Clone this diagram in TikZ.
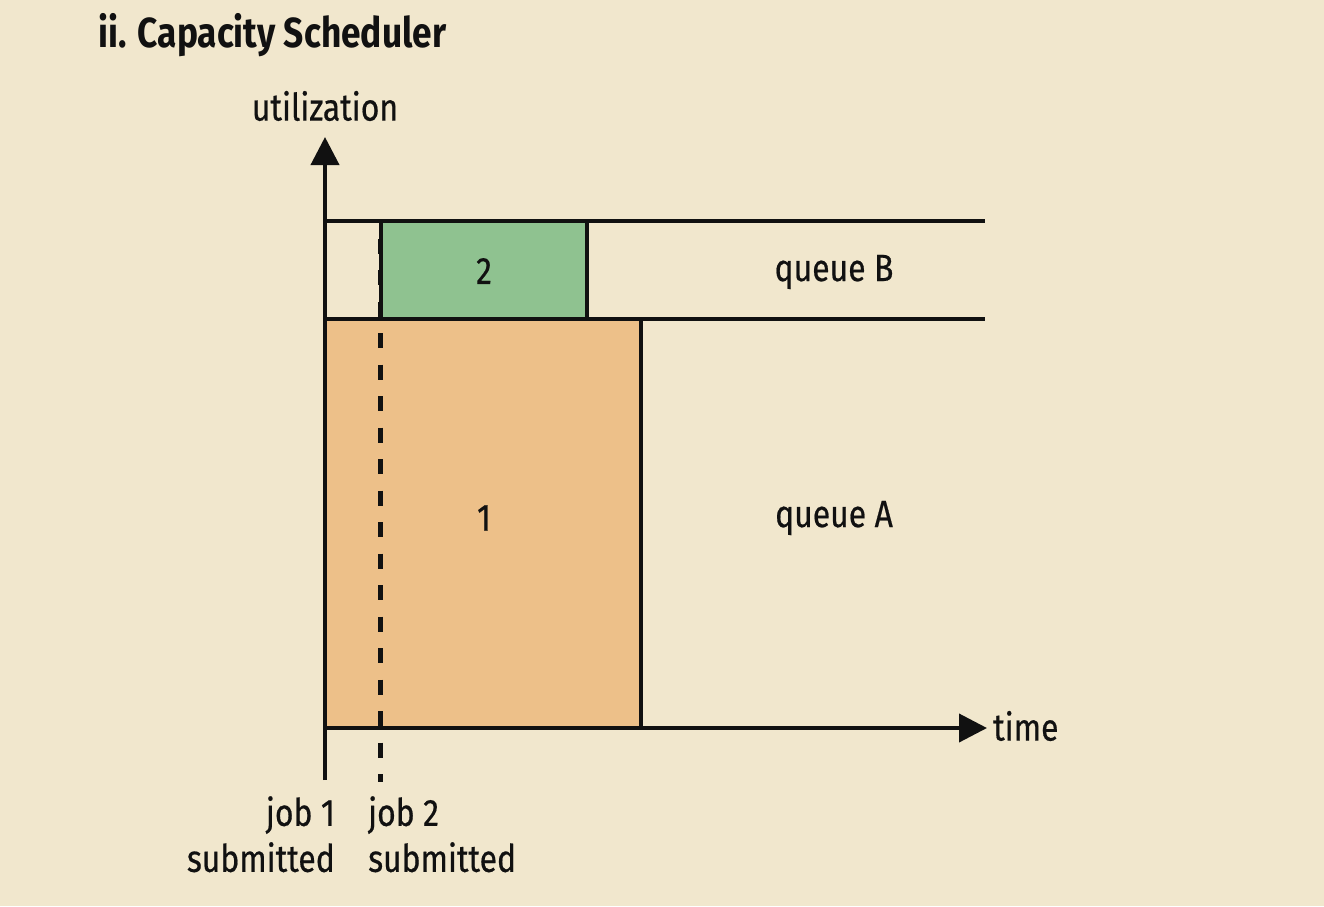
\documentclass[tikz,border=0pt]{standalone}
\usepackage{fontspec}
\setmainfont{Fira Sans}[FakeStretch=0.84,FakeBold=0.5]
\newfontfamily\titlefont{Fira Sans}[FakeStretch=0.84]
\usetikzlibrary{arrows.meta}
\definecolor{bg}{HTML}{F1E7CD}
\definecolor{jobA}{HTML}{EDC089}
\definecolor{jobB}{HTML}{8FC290}
\definecolor{ink}{HTML}{111111}
\begin{document}
\begin{tikzpicture}[x=1pt,y=-1pt,
  lab/.style={font=\fontsize{38}{44}\selectfont, text=ink, inner sep=0pt},
  axis/.style={line width=4pt, draw=ink, -{Triangle[length=28pt,width=28pt]}},
  rule/.style={line width=4pt, draw=ink},
  dashline/.style={line width=5pt, draw=ink, dash pattern=on 15pt off 16.5pt, dash phase=16pt}]
\fill[bg] (0,0) rectangle (1324,906);
\useasboundingbox (0,0) rectangle (1324,906);
% job boxes
\filldraw[fill=jobA, rule] (325,319) rectangle (641,728);
\filldraw[fill=jobB, rule] (381,221) rectangle (587,319);
% queue lines
\coordinate (qt0) at (325,221); \coordinate (qt1) at (985,221);
\coordinate (qm0) at (325,319); \coordinate (qm1) at (985,319);
\draw[rule] (qt0) -- (qt1);
\draw[rule] (qm0) -- (qm1);
% axes
\coordinate (o) at (325,780);
\coordinate (ytip) at (325,137);
\coordinate (x0) at (325,728);
\coordinate (xtip) at (987,728);
\draw[axis] (o) -- (ytip);
\draw[axis] (x0) -- (xtip);
% dashed job2 line
\coordinate (d0) at (380,223); \coordinate (d1) at (380,782);
\draw[dashline] (d0) -- (d1);
% texts
\node[lab, font=\titlefont\bfseries\fontsize{42}{48}\selectfont, anchor=west] (title) at (98,35) {ii. Capacity Scheduler};
\node[lab] (util) at (325,106) {utilization};
\node[lab, anchor=west] (time) at (993,726) {time};
\node[lab] (j2) at (484,271) {2};
\node[lab] (j1) at (484,518) {1};
\node[lab] (qB) at (834,272) {queue B};
\node[lab] (qA) at (834,518) {queue A};
\node[lab, anchor=north east, align=right, font=\fontsize{38}{46}\selectfont] (s1) at (335,796) {job 1\\submitted};
\node[lab, anchor=north west, align=left, font=\fontsize{38}{46}\selectfont] (s2) at (368,796) {job 2\\submitted};
\end{tikzpicture}
\end{document}
